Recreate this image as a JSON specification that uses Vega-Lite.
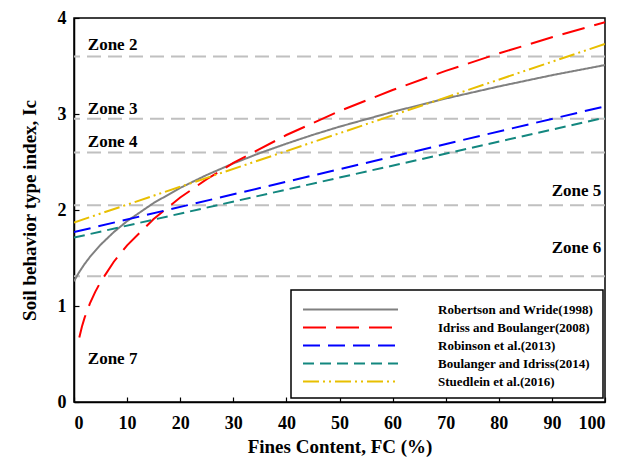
{
  "$schema": "https://vega.github.io/schema/vega-lite/v6.json",
  "width": 531,
  "height": 384,
  "autosize": {"type": "none"},
  "padding": {"left": 74, "top": 18, "right": 25, "bottom": 62},
  "background": "white",
  "config": {
    "view": {"stroke": "black", "strokeWidth": 1.5},
    "font": "Liberation Serif",
    "axis": {
      "grid": false,
      "domainColor": "black",
      "domainWidth": 1.5,
      "tickColor": "black",
      "tickWidth": 1.2,
      "tickSize": -5,
      "labelFont": "Liberation Serif",
      "labelFontWeight": "bold",
      "labelFontSize": 18,
      "labelColor": "black",
      "titleFont": "Liberation Serif",
      "titleFontWeight": "bold",
      "titleFontSize": 19,
      "titleColor": "black"
    },
    "legend": {
      "orient": "none",
      "legendX": 217,
      "legendY": 272,
      "strokeColor": "black",
      "strokeWidth": 1.5,
      "fillColor": "white",
      "padding": 9,
      "rowPadding": 0,
      "symbolType": "M-5,0H5",
      "symbolSize": 361,
      "symbolStrokeWidth": 2,
      "symbolOffset": 40,
      "labelOffset": 77,
      "labelFont": "Liberation Serif",
      "labelFontWeight": "bold",
      "labelFontSize": 13,
      "labelColor": "black",
      "labelLimit": 400
    }
  },
  "datasets": {
    "curves": [
      {"series": "Robertson and Wride(1998)", "FC": 0, "Ic": 1.259},
      {"series": "Robertson and Wride(1998)", "FC": 1, "Ic": 1.355},
      {"series": "Robertson and Wride(1998)", "FC": 2, "Ic": 1.438},
      {"series": "Robertson and Wride(1998)", "FC": 3, "Ic": 1.511},
      {"series": "Robertson and Wride(1998)", "FC": 5, "Ic": 1.638},
      {"series": "Robertson and Wride(1998)", "FC": 7.5, "Ic": 1.770},
      {"series": "Robertson and Wride(1998)", "FC": 10, "Ic": 1.884},
      {"series": "Robertson and Wride(1998)", "FC": 15, "Ic": 2.073},
      {"series": "Robertson and Wride(1998)", "FC": 20, "Ic": 2.230},
      {"series": "Robertson and Wride(1998)", "FC": 25, "Ic": 2.365},
      {"series": "Robertson and Wride(1998)", "FC": 30, "Ic": 2.485},
      {"series": "Robertson and Wride(1998)", "FC": 35, "Ic": 2.593},
      {"series": "Robertson and Wride(1998)", "FC": 40, "Ic": 2.691},
      {"series": "Robertson and Wride(1998)", "FC": 45, "Ic": 2.783},
      {"series": "Robertson and Wride(1998)", "FC": 50, "Ic": 2.868},
      {"series": "Robertson and Wride(1998)", "FC": 60, "Ic": 3.022},
      {"series": "Robertson and Wride(1998)", "FC": 70, "Ic": 3.161},
      {"series": "Robertson and Wride(1998)", "FC": 80, "Ic": 3.287},
      {"series": "Robertson and Wride(1998)", "FC": 90, "Ic": 3.404},
      {"series": "Robertson and Wride(1998)", "FC": 100, "Ic": 3.510},
      {"series": "Idriss and Boulanger(2008)", "FC": 1, "Ic": 0.673},
      {"series": "Idriss and Boulanger(2008)", "FC": 1.5, "Ic": 0.787},
      {"series": "Idriss and Boulanger(2008)", "FC": 2, "Ic": 0.879},
      {"series": "Idriss and Boulanger(2008)", "FC": 3, "Ic": 1.027},
      {"series": "Idriss and Boulanger(2008)", "FC": 4, "Ic": 1.147},
      {"series": "Idriss and Boulanger(2008)", "FC": 5, "Ic": 1.250},
      {"series": "Idriss and Boulanger(2008)", "FC": 7.5, "Ic": 1.461},
      {"series": "Idriss and Boulanger(2008)", "FC": 10, "Ic": 1.632},
      {"series": "Idriss and Boulanger(2008)", "FC": 15, "Ic": 1.907},
      {"series": "Idriss and Boulanger(2008)", "FC": 20, "Ic": 2.130},
      {"series": "Idriss and Boulanger(2008)", "FC": 25, "Ic": 2.321},
      {"series": "Idriss and Boulanger(2008)", "FC": 30, "Ic": 2.490},
      {"series": "Idriss and Boulanger(2008)", "FC": 40, "Ic": 2.781},
      {"series": "Idriss and Boulanger(2008)", "FC": 50, "Ic": 3.030},
      {"series": "Idriss and Boulanger(2008)", "FC": 60, "Ic": 3.250},
      {"series": "Idriss and Boulanger(2008)", "FC": 70, "Ic": 3.449},
      {"series": "Idriss and Boulanger(2008)", "FC": 80, "Ic": 3.631},
      {"series": "Idriss and Boulanger(2008)", "FC": 90, "Ic": 3.799},
      {"series": "Idriss and Boulanger(2008)", "FC": 100, "Ic": 3.956},
      {"series": "Robinson et al.(2013)", "FC": 0, "Ic": 1.77},
      {"series": "Robinson et al.(2013)", "FC": 50, "Ic": 2.425},
      {"series": "Robinson et al.(2013)", "FC": 100, "Ic": 3.08},
      {"series": "Boulanger and Idriss(2014)", "FC": 0, "Ic": 1.7125},
      {"series": "Boulanger and Idriss(2014)", "FC": 50, "Ic": 2.3375},
      {"series": "Boulanger and Idriss(2014)", "FC": 100, "Ic": 2.9625},
      {"series": "Stuedlein et al.(2016)", "FC": 0, "Ic": 1.87},
      {"series": "Stuedlein et al.(2016)", "FC": 50, "Ic": 2.80},
      {"series": "Stuedlein et al.(2016)", "FC": 100, "Ic": 3.73}
    ],
    "zones": [
      {"Ic": 3.6}, {"Ic": 2.95}, {"Ic": 2.6}, {"Ic": 2.05}, {"Ic": 1.31}
    ],
    "labelsLeft": [
      {"FC": 2.6, "Ic": 3.72, "label": "Zone 2"},
      {"FC": 2.6, "Ic": 3.05, "label": "Zone 3"},
      {"FC": 2.6, "Ic": 2.71, "label": "Zone 4"},
      {"FC": 2.6, "Ic": 0.45, "label": "Zone 7"}
    ],
    "labelsRight": [
      {"FC": 99.3, "Ic": 2.2, "label": "Zone 5"},
      {"FC": 99.3, "Ic": 1.6, "label": "Zone 6"}
    ]
  },
  "layer": [
    {
      "data": {"name": "zones"},
      "mark": {"type": "rule", "color": "#c0c0c0", "strokeWidth": 2, "strokeDash": [14, 7]},
      "encoding": {
        "y": {"field": "Ic", "type": "quantitative", "scale": {"domain": [0, 4]}}
      }
    },
    {
      "data": {"name": "curves"},
      "mark": {"type": "line", "strokeWidth": 2, "clip": true},
      "encoding": {
        "x": {"field": "FC", "type": "quantitative", "scale": {"domain": [0, 100], "nice": false},
              "axis": {"values": [0, 10, 20, 30, 40, 50, 60, 70, 80, 90, 100], "format": "d", "title": "Fines Content, FC (%)", "labelPadding": 17, "titlePadding": 5}},
        "y": {"field": "Ic", "type": "quantitative", "scale": {"domain": [0, 4], "nice": false},
              "axis": {"values": [0, 1, 2, 3, 4], "format": "d", "title": "Soil behavior type index, Ic", "labelPadding": 13, "titlePadding": 18}},
        "color": {
          "field": "series", "type": "nominal", "title": null,
          "scale": {
            "domain": ["Robertson and Wride(1998)", "Idriss and Boulanger(2008)", "Robinson et al.(2013)", "Boulanger and Idriss(2014)", "Stuedlein et al.(2016)"],
            "range": ["#808080", "#ff0000", "#0000ff", "#13877f", "#e8bf00"]
          },
          "legend": {"labelLimit": 400}
        },
        "strokeDash": {
          "field": "series", "type": "nominal", "title": null,
          "scale": {
            "domain": ["Robertson and Wride(1998)", "Idriss and Boulanger(2008)", "Robinson et al.(2013)", "Boulanger and Idriss(2014)", "Stuedlein et al.(2016)"],
            "range": [[1, 0], [23, 10], [17, 8], [11, 6], [16, 4, 2, 4, 2, 4]]
          },
          "legend": {"labelLimit": 400}
        },
        "order": {"field": "FC", "type": "quantitative"}
      }
    },
    {
      "data": {"name": "labelsLeft"},
      "mark": {"type": "text", "align": "left", "baseline": "middle", "font": "Liberation Serif", "fontWeight": "bold", "fontSize": 17, "color": "black"},
      "encoding": {
        "x": {"field": "FC", "type": "quantitative"},
        "y": {"field": "Ic", "type": "quantitative"},
        "text": {"field": "label"}
      }
    },
    {
      "data": {"name": "labelsRight"},
      "mark": {"type": "text", "align": "right", "baseline": "middle", "font": "Liberation Serif", "fontWeight": "bold", "fontSize": 17, "color": "black"},
      "encoding": {
        "x": {"field": "FC", "type": "quantitative"},
        "y": {"field": "Ic", "type": "quantitative"},
        "text": {"field": "label"}
      }
    }
  ]
}
